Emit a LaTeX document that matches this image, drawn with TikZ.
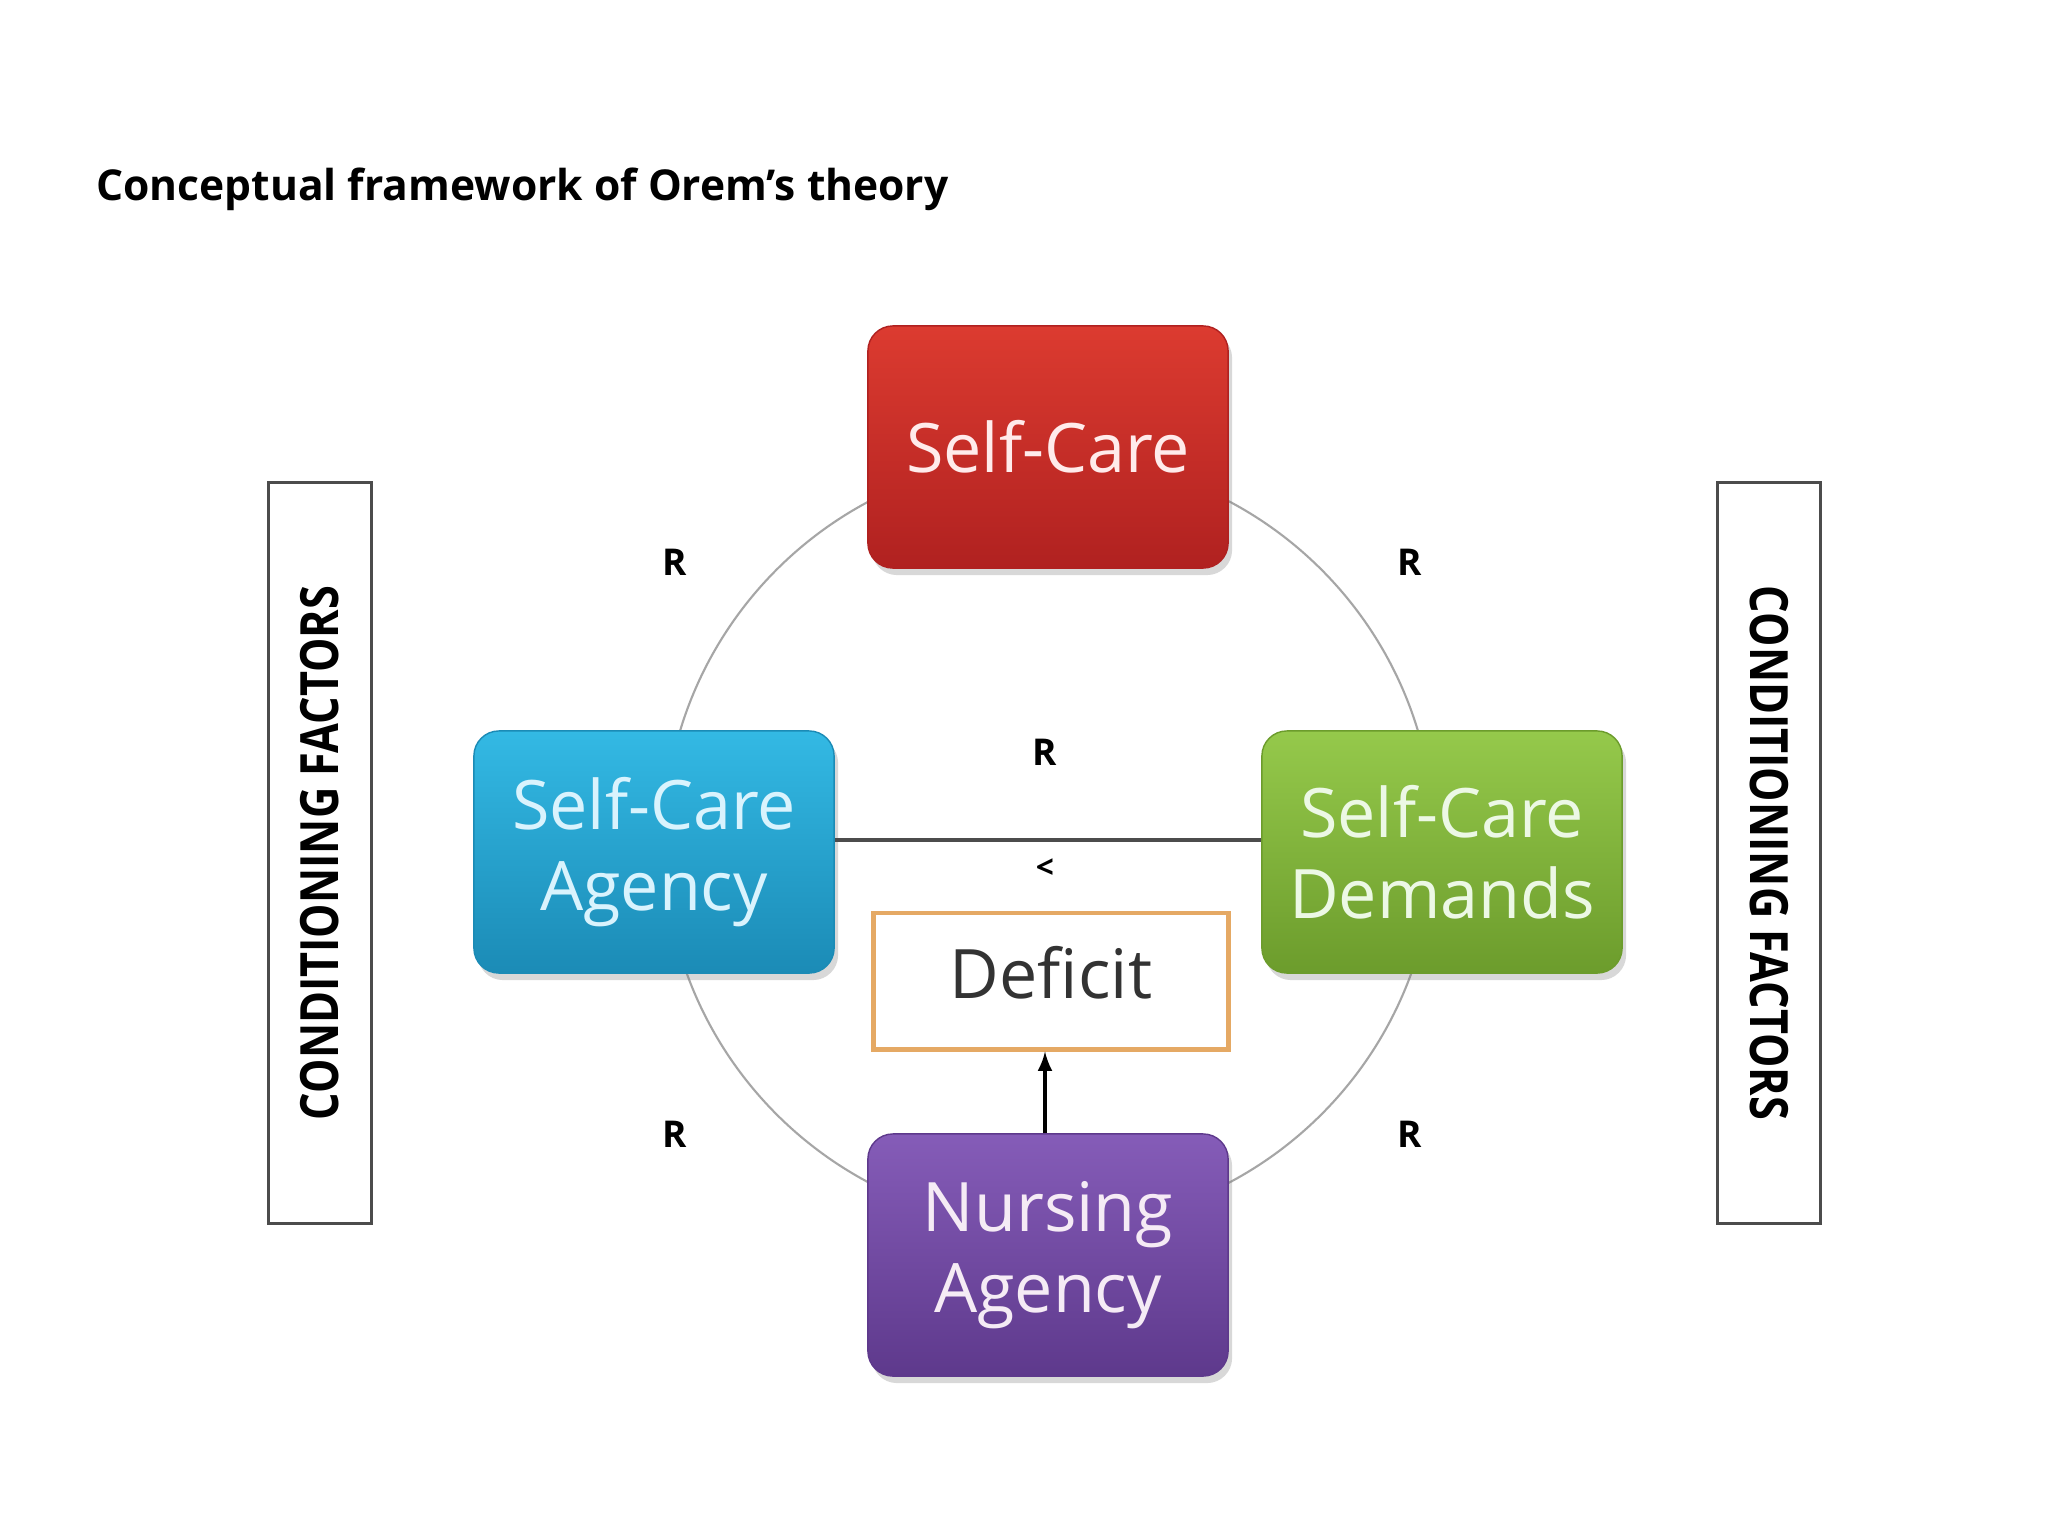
\documentclass[tikz,border=0pt]{standalone}
\usepackage{fontspec}
\setmainfont{Open Sans}
\newfontfamily\condfont[FakeStretch=0.82]{Open Sans}
\usetikzlibrary{arrows,shadows}
\definecolor{redtop}{HTML}{DC3B30}
\definecolor{redbot}{HTML}{B02120}
\definecolor{bluetop}{HTML}{33B9E4}
\definecolor{bluebot}{HTML}{1B8BB6}
\definecolor{greentop}{HTML}{95C94B}
\definecolor{greenbot}{HTML}{6C9C2C}
\definecolor{purptop}{HTML}{855CB8}
\definecolor{purpbot}{HTML}{5E398C}
\definecolor{deforange}{HTML}{E5A964}
\begin{document}
\begin{tikzpicture}[x=0.01cm, y=-0.01cm,
	concept/.style={rounded corners=0.25cm, minimum width=3.6cm, minimum height=2.42cm, align=center,
		font=\fontsize{19.4}{23}\selectfont, line width=0.4pt,
		drop shadow={opacity=0.3, shadow xshift=0.04cm, shadow yshift=-0.07cm}},
	factor/.style={draw=black!70, line width=0.85pt, fill=white, minimum width=1.03cm, minimum height=7.41cm},
	rel/.style={font=\bfseries\fontsize{10.5}{12}\selectfont}]
	\useasboundingbox [fill=white] (0,0) rectangle (2048,1536);
	\node [anchor=west, font=\bfseries\fontsize{12.1}{14}\selectfont] (title) at (84,189) {Conceptual framework of Orem's theory};
	% relation circle behind the boxes
	\coordinate (hub) at (1049,842);
	\draw [black!35, line width=0.6pt] (hub) circle [radius=3.85cm];
	\node [concept, draw=redbot, top color=redtop, bottom color=redbot, text=red!8] (care) at (1048,447) {Self-Care};
	\node [concept, draw=bluebot, top color=bluetop, bottom color=bluebot, text=cyan!15] (agency) at (654,852) {Self-Care\\Agency};
	\node [concept, draw=greenbot, top color=greentop, bottom color=greenbot, text=yellow!25!green!10] (demands) at (1442,852) {Self-Care\\Demands};
	\node [concept, draw=purpbot, top color=purptop, bottom color=purpbot, text=violet!8] (nursing) at (1048,1255) {Nursing\\Agency};
	\node [draw=deforange, line width=1.4pt, fill=white, minimum width=3.55cm, minimum height=1.36cm,
		text=black!80, font=\fontsize{19.4}{23}\selectfont] (deficit) at (1051,981) {Deficit\vphantom{g}};
	\draw [black!70, line width=0.9pt] (agency.east |- 0,840) -- (demands.west |- 0,840);
	\draw [-latex, line width=0.9pt] (nursing.north -| 1045,0) -- (deficit.south -| 1045,0);
	\foreach \x/\y in {675/562, 1410/562, 675/1134, 1410/1134, 1045/752}
		\node [rel] at (\x,\y) {R};
	\node [rel, font=\bfseries\fontsize{9}{10}\selectfont] (less) at (1045,869) {<};
	\node [factor] (leftfac) at (320,853) {};
	\node [rotate=90, font=\condfont\bfseries\fontsize{15}{18}\selectfont] at (leftfac) {CONDITIONING FACTORS};
	\node [factor] (rightfac) at (1769,853) {};
	\node [rotate=-90, font=\condfont\bfseries\fontsize{15}{18}\selectfont] at (rightfac) {CONDITIONING FACTORS};
\end{tikzpicture}
\end{document}
